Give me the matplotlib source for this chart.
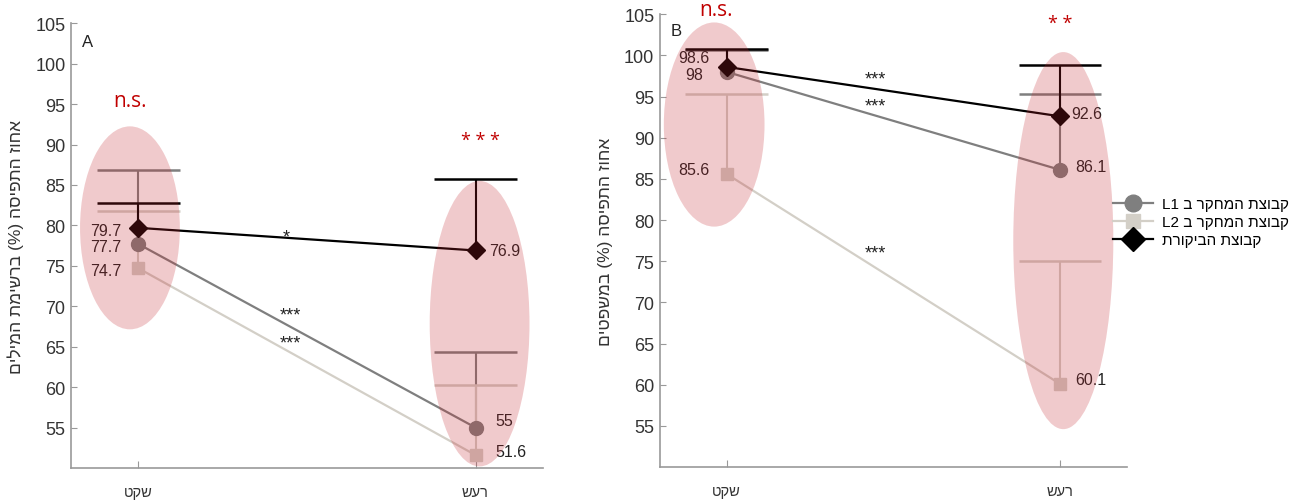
import matplotlib.pyplot as plt
from matplotlib.patches import Ellipse
from matplotlib.lines import Line2D

plt.rcParams['font.family'] = ['Liberation Sans', 'DejaVu Sans']


def heb(s):
    # matplotlib has no bidi support: flip word order and Hebrew words
    out = []
    for tok in reversed(s.split(' ')):
        if any('\u0590' <= c <= '\u05ff' for c in tok):
            tok = tok[::-1]
        out.append(tok)
    return ' '.join(out)


conditions = ['שקט', 'רעש']
group_names = ['קבוצת המחקר ב L1', 'קבוצת המחקר ב L2', 'קבוצת הביקורת']

# panel A - word list
a_control = [79.7, 76.9]
a_l1 = [77.7, 55.0]
a_l2 = [74.7, 51.6]
a_control_err = [3.1, 8.8]
a_l1_err = [9.1, 9.4]
a_l2_err = [7.1, 8.7]
a_pair_sig = ['***', '***', '*']          # L1, L2, control
a_cond_sig = ['n.s.', '***']

# panel B - sentences
b_control = [98.6, 92.6]
b_l1 = [98.0, 86.1]
b_l2 = [85.6, 60.1]
b_control_err = [2.15, 6.2]
b_l1_err = [2.6, 9.2]
b_l2_err = [9.7, 14.9]
b_pair_sig = ['***', '***', '***']
b_cond_sig = ['n.s.', '**']

c_l1 = '#7f7f7f'
c_l2 = '#d3cfc7'
c_ctrl = '#000000'
sig_red = '#c00000'

fig = plt.figure(figsize=(13.04, 5.02), dpi=100)
axA = fig.add_axes([0.0544, 0.0657, 0.362, 0.886])
axB = fig.add_axes([0.506, 0.0677, 0.358, 0.902])

panels = [
    dict(ax=axA, letter='A', ylabel='אחוז התפיסה (%) ברשימת המילים',
         means=[a_l1, a_l2, a_control], errs=[a_l1_err, a_l2_err, a_control_err],
         pair_sig=a_pair_sig, cond_sig=a_cond_sig,
         # shaded regions: (x offset, y center, width, height)
         shade=[(-0.025, 79.7, 0.296, 25.1), (0.012, 67.85, 0.296, 35.3)],
         cond_sig_pos=[(-0.026, 95.5), (0.015, 90.6)],
         pair_sig_pos=[(0.45, 68.9), (0.45, 65.4), (0.44, 78.6)],
         lab_pos=[[(-0.05, -0.3, 'right'), (0.06, 0.9, 'left')],
                  [(-0.05, -0.3, 'right'), (0.06, 0.5, 'left')],
                  [(-0.05, -0.3, 'right'), (0.04, 0.0, 'left')]],
         letter_y=102.7),
    dict(ax=axB, letter='B', ylabel='אחוז התפיסה (%) במשפטים',
         means=[b_l1, b_l2, b_control], errs=[b_l1_err, b_l2_err, b_control_err],
         pair_sig=b_pair_sig, cond_sig=b_cond_sig,
         shade=[(-0.037, 91.6, 0.302, 24.8), (0.01, 77.5, 0.30, 45.8)],
         cond_sig_pos=[(-0.033, 105.6), (0.0, 103.9)],
         pair_sig_pos=[(0.446, 93.9), (0.446, 76.0), (0.446, 97.1)],
         lab_pos=[[(-0.07, -0.3, 'right'), (0.045, 0.4, 'left')],
                  [(-0.05, 0.5, 'right'), (0.045, 0.5, 'left')],
                  [(-0.05, 1.1, 'right'), (0.035, 0.4, 'left')]],
         letter_y=103.0),
]

colors = [c_l1, c_l2, c_ctrl]
markers = ['o', 's', 'D']
msizes = [10, 9, 9]
x = [0, 1]
cap = 0.124

for p in panels:
    ax = p['ax']
    for i in range(3):
        m, e = p['means'][i], p['errs'][i]
        # one-sided error bars (upper side only)
        tops = [v + d for v, d in zip(m, e)]
        ax.vlines(x, m, tops, color=colors[i], lw=1.5, zorder=2)
        ax.hlines(tops, [xi - cap for xi in x], [xi + cap for xi in x],
                  color=colors[i], lw=1.8, zorder=2)
        ax.plot(x, m, color=colors[i], lw=1.6, marker=markers[i],
                ms=msizes[i], mec=colors[i], mfc=colors[i], zorder=3)
        for j in range(2):
            dx, dy, ha = p['lab_pos'][i][j]
            ax.text(x[j] + dx, m[j] + dy, f'{m[j]:g}', ha=ha, va='center',
                    fontsize=11.5, color='#222222', zorder=3)
        sx, sy = p['pair_sig_pos'][i]
        ax.text(sx, sy, p['pair_sig'][i], ha='center', va='center',
                fontsize=13, color='#222222', zorder=3)

    for (dx, cy, w, h), xc in zip(p['shade'], x):
        ax.add_patch(Ellipse((xc + dx, cy), w, h, facecolor='#c3232b',
                             alpha=0.24, edgecolor='none', zorder=4))

    for (sx, sy), txt, xc in zip(p['cond_sig_pos'], p['cond_sig'], x):
        star = txt.startswith('*')
        ax.text(xc + sx, sy, ' '.join(txt) if star else txt, ha='center',
                va='center', color=sig_red, fontsize=13 if star else 15,
                family=['Open Sans', 'DejaVu Sans'], zorder=5, clip_on=False)

    ax.text(-0.15, p['letter_y'], p['letter'], fontsize=12, ha='center',
            va='center', color='#222222')

    ax.set_xlim(-0.2, 1.2)
    ax.set_ylim(50, 105)
    ax.set_yticks(range(55, 106, 5))
    ax.set_xticks(x)
    ax.set_xticklabels([heb(c) for c in conditions], fontsize=10.5)
    ax.tick_params(axis='y', direction='in', length=4, color='#999999',
                   labelsize=13, labelcolor='#333333', pad=4)
    ax.tick_params(axis='x', direction='in', length=5, color='#999999',
                   labelcolor='#333333', pad=12)
    ax.set_ylabel(heb(p['ylabel']), fontsize=12.5, color='#333333', labelpad=8)
    for side in ['top', 'right']:
        ax.spines[side].set_visible(False)
    for side in ['left', 'bottom']:
        ax.spines[side].set_color('#999999')
        ax.spines[side].set_linewidth(1.2)

handles = [Line2D([], [], color=c, lw=1.6, marker=mk, ms=ms, mfc=c, mec=c)
           for c, mk, ms in zip(colors, markers, [12, 10, 12])]
fig.legend(handles, [heb(n) for n in group_names], loc='upper left',
           bbox_to_anchor=(0.849, 0.617), frameon=False, fontsize=11,
           handlelength=2.6, labelspacing=0.25, handletextpad=0.6,
           borderaxespad=0)

fig.savefig('out.png', dpi=100)
